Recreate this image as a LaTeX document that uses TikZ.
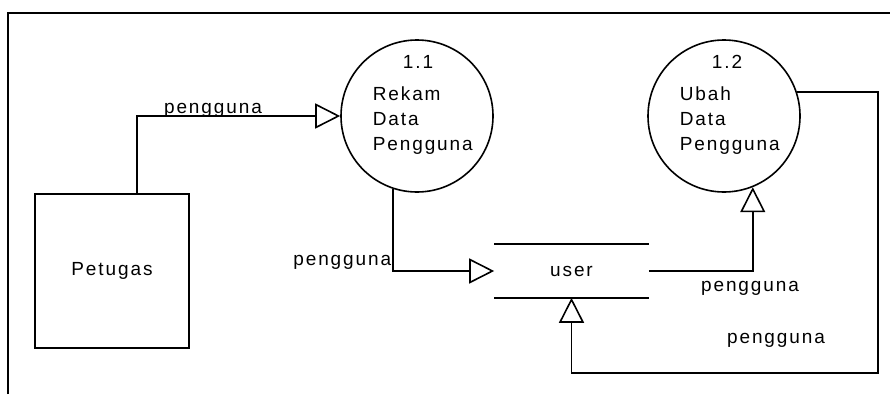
\documentclass[tikz,border=0pt]{standalone}
\usepackage{fontspec}
\setmainfont[LetterSpace=10]{Liberation Sans}
\usetikzlibrary{arrows.meta}
\begin{document}
\begin{tikzpicture}[x=1pt,y=-1pt,line width=1.6pt,
    every node/.style={font=\fontsize{19}{25}\selectfont,inner sep=0pt},
    proc/.style={draw,circle,minimum size=152pt},
    ent/.style={draw,rectangle,minimum width=154pt,minimum height=154pt},
    store/.style={rectangle,minimum width=153pt,minimum height=52pt},
    flow/.style={-{Triangle[open,length=25pt,width=25pt]}}]
  \useasboundingbox (0,0) rectangle (890,394);
  % frame
  \draw (8,394) -- (8,13) -- (890,13);
  % nodes
  \node[ent] (pet) at (112,271) {Petugas};
  \node[proc] (p11) at (417,116) {};
  \node[anchor=base] (n11) at (418,68) {1.1};
  \node[anchor=base west,align=left] (t11) at (372,150) {Rekam\\Data\\Pengguna};
  \node[proc] (p12) at (724,116) {};
  \node[anchor=base] (n12) at (727,68) {1.2};
  \node[anchor=base west,align=left] (t12) at (679,150) {Ubah\\Data\\Pengguna};
  \node[store] (usr) at (571.5,271) {user};
  \draw (usr.north west) -- (usr.north east)
        (usr.south west) -- (usr.south east);
  \coordinate (c1) at (878,373);
  % flows
  \begin{scope}[flow]
    \draw ([xshift=25pt]pet.north) |- (p11);
    \draw (p11.252) |- (usr.west);
    \draw (usr.east) -| (p12.292);
    \draw (p12.18) -| (c1) -| (usr.south);
  \end{scope}
  % labels
  \node[anchor=base] (l1) at (213,113) {pengguna};
  \node[anchor=base east] (l2) at (392,265) {pengguna};
  \node[anchor=base] (l3) at (750,291) {pengguna};
  \node[anchor=base] (l4) at (776,343) {pengguna};
\end{tikzpicture}
\end{document}
